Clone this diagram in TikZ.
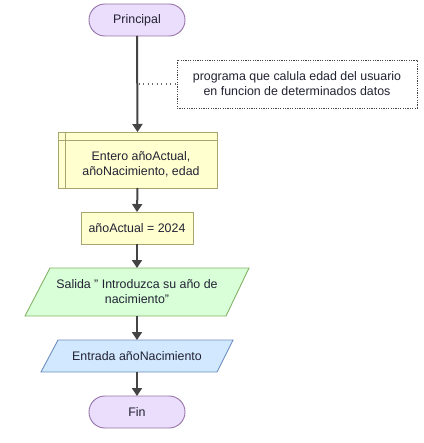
\documentclass[tikz,border=0pt]{standalone}
\usepackage{fontspec}
\setmainfont{Liberation Sans}
\usetikzlibrary{arrows.meta}
\definecolor{txt}{HTML}{222233}
\definecolor{lnc}{HTML}{444444}
\definecolor{pfill}{HTML}{EBDDFC}
\definecolor{pdraw}{HTML}{9673A6}
\definecolor{yfill}{HTML}{FFFFD0}
\definecolor{ydraw}{HTML}{A8A670}
\definecolor{gfill}{HTML}{D8FFD8}
\definecolor{gdraw}{HTML}{82B366}
\definecolor{bfill}{HTML}{D2E8FF}
\definecolor{bdraw}{HTML}{6C8EBF}
\tikzset{
  every node/.style={font=\fontsize{12.4}{15}\selectfont\color{txt}, inner sep=0pt, outer sep=0pt, align=center},
  termshape/.style={draw=pdraw, fill=pfill, line width=0.9pt, rounded corners=15.9pt},
  procshape/.style={draw=ydraw, fill=yfill, line width=0.9pt},
  outshape/.style={draw=gdraw, fill=gfill, line width=0.9pt},
  inshape/.style={draw=bdraw, fill=bfill, line width=0.9pt},
  noteshape/.style={draw=lnc, dash pattern=on 1.2pt off 1.2pt, line width=0.7pt},
  flow/.style={draw=lnc, line width=2pt, -{Triangle[width=10pt,length=8pt]}},
  notelink/.style={draw=lnc!80, line width=1.3pt, dash pattern=on 1.3pt off 3.2pt}
}
\begin{document}
\begin{tikzpicture}[x=1pt,y=1pt]
\useasboundingbox (0,0) rectangle (423,-443);
% shapes
\draw[termshape] (89,-4) rectangle (185,-36);
\draw[noteshape] (177,-60) rectangle (417,-108);
\draw[procshape] (58,-132) rectangle (217,-188);
\draw[procshape] (58,-140) -- (217,-140) (65,-132) -- (65,-188);
\draw[procshape] (81,-212) rectangle (193,-244);
\draw[outshape] (25,-316) -- (226,-316) -- (249,-268) -- (50,-268) -- cycle;
\draw[inshape] (41,-372) -- (217,-372) -- (233,-340) -- (58,-340) -- cycle;
\draw[termshape] (89,-396) rectangle (185,-428);
% nodes
\node[minimum width=96pt, minimum height=32pt] (ini) at (137,-20) {Principal};
\node[minimum width=240pt, minimum height=48pt] (com) at (297,-84) {programa que calula edad del usuario\\en funcion de determinados datos};
\node[minimum width=159pt, minimum height=56pt] (dec) at (137.5,-160) {};
\node (dect) at (141,-164) {Entero añoActual,\\añoNacimiento, edad};
\node[minimum width=112pt, minimum height=32pt] (asg) at (137,-228) {añoActual = 2024};
\node[minimum width=224pt, minimum height=48pt] (out) at (137,-292) {Salida " Introduzca su año de\\nacimiento"};
\node[minimum width=192pt, minimum height=32pt] (inp) at (137,-356) {Entrada añoNacimiento};
\node[minimum width=96pt, minimum height=32pt] (fin) at (137,-412) {Fin};
% connectors
\coordinate (junc) at (ini.south |- com.west);
\draw[notelink] (junc) ++(1.5,0) -- (com.west);
\draw[flow] (ini.south) -- (dec.north);
\draw[flow] (dec.south) -- (asg.north);
\draw[flow] (asg.south) -- (out.north);
\draw[flow] (out.south) -- (inp.north);
\draw[flow] (inp.south) -- (fin.north);
\end{tikzpicture}
\end{document}
